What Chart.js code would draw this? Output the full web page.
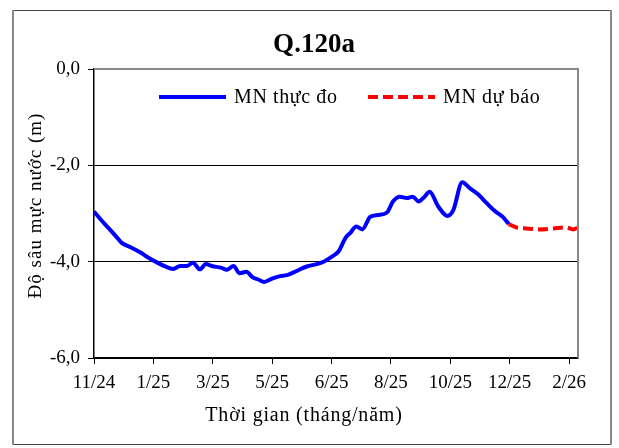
<!DOCTYPE html>
<html><head><meta charset="utf-8">
<script src="https://cdn.jsdelivr.net/npm/chart.js@4"></script>
<style>html,body{margin:0;padding:0;background:#fff}canvas{display:block}</style>
</head><body>
<canvas id="c" width="619" height="448"></canvas>
<script>
const chartTitle = 'Q.120a';
const seriesNames = ['MN thực đo', 'MN dự báo'];
const xTitle = 'Thời gian (tháng/năm)';
const yTitle = 'Độ sâu mực nước (m)';
const xTickDays = [0, 60, 120, 180, 240, 300, 360, 420, 480];
const xTickLabels = ['11/24', '1/25', '3/25', '5/25', '6/25', '8/25', '10/25', '12/25', '2/26'];
const xMaxDay = 489;
const yTicks = [0, -2, -4, -6];

const obsDays = [0,7,15,22,28,37,47,55,65,72,80,87,94,100,107,113,119,129,134,141,147,154,160,166,172,180,188,195,205,215,225,233,240,247,254,259,265,271,279,287,296,302,309,316,322,328,334,339,348,357,363,372,380,388,397,405,413,419];
const obsValues = [-2.96,-3.13,-3.31,-3.47,-3.61,-3.70,-3.81,-3.92,-4.03,-4.10,-4.15,-4.09,-4.09,-4.02,-4.16,-4.05,-4.09,-4.13,-4.17,-4.09,-4.24,-4.21,-4.32,-4.37,-4.42,-4.35,-4.30,-4.28,-4.19,-4.10,-4.05,-3.99,-3.90,-3.79,-3.51,-3.40,-3.27,-3.33,-3.07,-3.03,-2.98,-2.75,-2.65,-2.68,-2.65,-2.75,-2.65,-2.55,-2.86,-3.05,-2.93,-2.35,-2.48,-2.60,-2.79,-2.95,-3.07,-3.22];
const fcDays = [419,427,437,450,464,477,484,489];
const fcValues = [-3.22,-3.29,-3.31,-3.33,-3.31,-3.29,-3.33,-3.29];

const FONT = "'Liberation Serif', 'Times New Roman', serif";
const toXY = (xs, ys) => xs.map((x, i) => ({ x: x, y: ys[i] }));

function shiftDraw(obj, method, dx, dy, spacing) {
  if (!obj || obj['_p_' + method]) return;
  const orig = obj[method];
  obj[method] = function () {
    const c = this.ctx;
    c.save();
    c.translate(dx, dy);
    if (spacing) c.letterSpacing = spacing;
    const r = orig.apply(this, arguments);
    c.restore();
    return r;
  };
  obj['_p_' + method] = true;
}

const decor = {
  id: 'decor',
  beforeDraw(chart) {
    shiftDraw(chart.scales.x, 'drawTitle', -32, 0, '0.8px');
    shiftDraw(chart.scales.y, 'drawTitle', -1, -8, '1px');
    shiftDraw(chart.titleBlock, 'draw', 25, 0, '0px');
    const ctx = chart.ctx;
    ctx.save();
    ctx.fillStyle = '#fff';
    ctx.fillRect(0, 0, chart.width, chart.height);
    ctx.strokeStyle = '#444'; ctx.lineWidth = 1;
    ctx.beginPath();
    ctx.moveTo(12, 10.5); ctx.lineTo(612, 10.5);
    ctx.moveTo(12, 444.5); ctx.lineTo(612, 444.5);
    ctx.stroke();
    ctx.strokeStyle = '#888'; ctx.lineWidth = 2;
    ctx.beginPath();
    ctx.moveTo(13, 10); ctx.lineTo(13, 445);
    ctx.moveTo(611, 10); ctx.lineTo(611, 445);
    ctx.stroke();
    ctx.restore();
  },
  afterDraw(chart) {
    const ctx = chart.ctx;
    const ca = chart.chartArea;
    ctx.save();
    ctx.strokeStyle = '#888'; ctx.lineWidth = 2;
    ctx.beginPath();
    ctx.moveTo(ca.left, ca.top); ctx.lineTo(ca.right, ca.top); ctx.lineTo(ca.right, ca.bottom);
    ctx.stroke();
    const ly = ca.top + 28;
    const items = [
      { x: ca.left + 65, ds: chart.data.datasets[0] },
      { x: ca.left + 274, ds: chart.data.datasets[1] }
    ];
    ctx.font = '20px ' + FONT;
    ctx.textBaseline = 'middle';
    ctx.textAlign = 'left';
    ctx.letterSpacing = '0.6px';
    items.forEach(it => {
      ctx.strokeStyle = it.ds.borderColor;
      ctx.lineWidth = it.ds.borderWidth;
      ctx.setLineDash(it.ds.borderDash || []);
      ctx.beginPath(); ctx.moveTo(it.x, ly); ctx.lineTo(it.x + 67, ly); ctx.stroke();
      ctx.setLineDash([]);
      ctx.fillStyle = '#000';
      ctx.fillText(it.ds.label, it.x + 75, ly + 1);
    });
    ctx.restore();
  }
};

new Chart(document.getElementById('c'), {
  type: 'line',
  data: {
    datasets: [
      { label: seriesNames[0], data: toXY(obsDays, obsValues), borderColor: '#0000ff', borderWidth: 4,
        pointRadius: 0, cubicInterpolationMode: 'monotone', fill: false },
      { label: seriesNames[1], data: toXY(fcDays, fcValues), borderColor: '#ff0000', borderWidth: 4,
        borderDash: [10, 5], pointRadius: 0, cubicInterpolationMode: 'monotone', fill: false }
    ]
  },
  options: {
    responsive: false,
    devicePixelRatio: 1,
    animation: false,
    layout: { padding: { left: 0, right: 41, top: 0, bottom: 0 } },
    plugins: {
      legend: { display: false },
      tooltip: { enabled: false },
      title: {
        display: true, text: chartTitle, color: '#000',
        font: { family: FONT, size: 27, weight: 'bold', lineHeight: 1.2 },
        padding: { top: 28.8, bottom: 7.8 }
      }
    },
    scales: {
      x: {
        type: 'linear', min: 0, max: xMaxDay,
        afterBuildTicks: s => { s.ticks = xTickDays.map(v => ({ value: v })); },
        afterFit: s => { s.height = 90; },
        ticks: {
          autoSkip: false, maxRotation: 0, color: '#000', padding: 8,
          font: { family: FONT, size: 19 },
          callback: v => xTickLabels[xTickDays.indexOf(v)]
        },
        grid: { drawOnChartArea: false, drawTicks: true, tickLength: 6, tickColor: '#000' },
        border: { display: true, color: '#000', width: 1.5 },
        title: { display: true, text: xTitle, color: '#000', font: { family: FONT, size: 20 }, padding: { top: 0, bottom: 20 } }
      },
      y: {
        min: -6, max: 0,
        afterBuildTicks: s => { s.ticks = yTicks.map(v => ({ value: v })); },
        afterFit: s => { s.width = 94; },
        ticks: {
          color: '#000', padding: 8,
          font: { family: FONT, size: 19 },
          callback: v => v.toFixed(1).replace('.', ',')
        },
        grid: {
          color: c => (c.tick && c.tick.value === 0) ? 'rgba(0,0,0,0)' : '#000',
          lineWidth: 1, drawTicks: true, tickLength: 6, tickColor: '#000'
        },
        border: { display: true, color: '#000', width: 1.5 },
        title: { display: true, text: yTitle, color: '#000', font: { family: FONT, size: 19 }, padding: { top: 26, bottom: 0 } }
      }
    }
  },
  plugins: [decor]
});
</script>
</body></html>
